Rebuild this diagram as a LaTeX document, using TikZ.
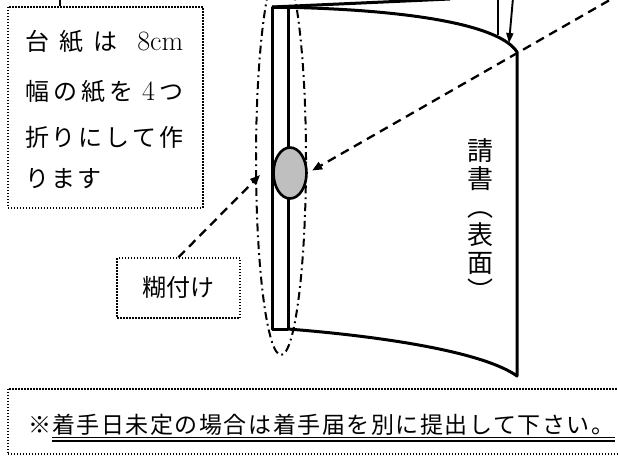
\documentclass[tikz,border=0pt]{standalone}
\usepackage{fontspec}
\newfontfamily\jpfont{Noto Sans CJK JP}
\newfontfamily\jpnote[LetterSpace=6.7]{Noto Sans CJK JP}
\usetikzlibrary{arrows.meta}
\usetikzlibrary{shapes.geometric}

\begin{document}
\begin{tikzpicture}[x=1pt,y=-1pt,
			every node/.style={inner sep=0pt},
			memobox/.style={draw,line width=1.5pt,dash pattern=on 1.5pt off 1.5pt},
			sheetline/.style={line width=3pt,line join=round},
			leaderline/.style={line width=1.9pt},
			gluearrow/.style={line width=2.3pt,dash pattern=on 9pt off 6pt,-{Triangle[length=10pt,width=8pt]}},
			gluezone/.style={line width=2pt,dash pattern=on 8pt off 4pt on 1.8pt off 4pt},
			gluespot/.style={ellipse,draw,line width=2.6pt,fill=gray!50,minimum width=33pt,minimum height=51pt},
			jp/.style={font=\jpfont\fontsize{#1}{#1}\selectfont}]
			\useasboundingbox (0,0) rectangle (618,456);
			\clip (0,0) rectangle (618,456);
			
			%台紙と請書
			\draw[sheetline] (288,7) -- (272,7) -- (272,329) -- (288,329);
			\draw[sheetline] (288,7) -- (288,329);
			\draw[sheetline] (272,7) .. controls (410,9) and (500,25) .. (517,52) -- (517,376) .. controls (485,353) and (390,337) .. (288,329);
			\draw[sheetline] (272,7) -- (450,-1);
			
			\coordinate (lead1) at (498,-2);
			\coordinate (fold1) at (498,35);
			\coordinate (lead2) at (513,-2);
			\coordinate (fold2) at (509,43);
			\draw[leaderline] (lead1) -- (fold1);
			\draw[leaderline,-{Triangle[length=10pt,width=7pt]}] (lead2) -- (fold2);
			
			\node[jp=26,align=center,anchor=north] (ukesho) at (480,138) {請\\[2pt]書\\[2pt]︵\\[2pt]表\\[2pt]面\\[2pt]︶};
			
			% 糊付け
			\draw[gluezone] (281,160) ellipse [x radius=25pt,y radius=195pt];
			\node[gluespot] (glue) at (290,173) {};
			
			% 説明
			\node[memobox,anchor=north west,minimum width=195pt,minimum height=201pt] (daishi) at (7,6) {};
			\coordinate (lead3) at (60,-2);
			\draw[leaderline] (lead3) -- (lead3 |- daishi.north);
			\node[jp=24,anchor=west] (line1) at (25,42) {\makebox[158pt][s]{台\hfil 紙\hfil は\hfil\hfil {\rmfamily\fontsize{28}{28}\selectfont 8cm}}};
			\node[jp=24,anchor=west] (line2) at (25,91.5) {\makebox[158pt][s]{幅\hfil の\hfil 紙\hfil を\hfil\hfil {\rmfamily\fontsize{28}{28}\selectfont 4}\hfil つ}};
			\node[jp=24,anchor=west] (line3) at (25,137) {\makebox[158pt][s]{折\hfil り\hfil に\hfil し\hfil て\hfil 作}};
			\node[jp=24,anchor=west] (line4) at (25,179) {\makebox[76pt][s]{り\hfil ま\hfil す}};
			
			\node[memobox,minimum width=123pt,minimum height=60pt,jp=24] (nori) at (178.5,288) {糊付け};
			\coordinate (aim) at (260,175);
			\draw[gluearrow] (nori.north) -- (aim);
			\coordinate (far) at (622,-7);
			\draw[gluearrow,shorten >=5pt] (far) -- (glue.east);
			
			% 注意書き
			\node[memobox,anchor=north west,minimum width=620pt,minimum height=65pt] (chui) at (7,388) {};
			\node[jp=23,anchor=base west] (kome) at (28.5,433.5) {※};
			\node[anchor=base west,font=\jpnote\fontsize{23}{23}\selectfont] (note) at (52,433.5) {着手日未定の場合は着手届を別に提出して下さい。};
			\draw[line width=0.9pt] ([yshift=-4pt]note.base west) -- ([yshift=-4pt]note.base east);
			\draw[line width=2pt] ([yshift=-7pt]note.base west) -- ([yshift=-7pt]note.base east);
		\end{tikzpicture}
\end{document}
